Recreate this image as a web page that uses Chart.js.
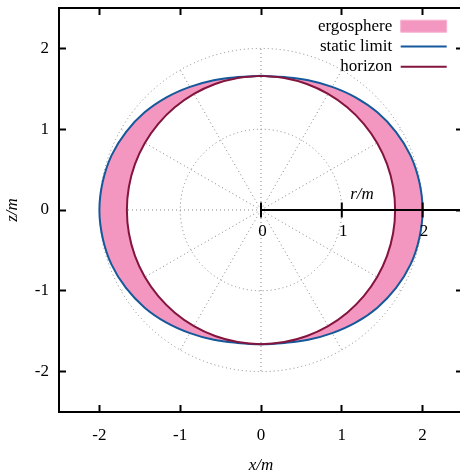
<!DOCTYPE html>
<html><head><meta charset="utf-8">
<script src="https://cdn.jsdelivr.net/npm/chart.js@4/dist/chart.umd.min.js"></script>
<style>html,body{margin:0;padding:0;overflow:hidden;background:#fff}#wrap{position:relative;width:470px;height:474px}</style>
</head><body><div id="wrap"><canvas id="c"></canvas></div>
<script>
// polar angle (degrees, measured from +z axis toward +x)
const thetaDeg = [0,10,20,30,40,50,60,70,80,90,100,110,120,130,140,150,160,170,180,190,200,210,220,230,240,250,260,270,280,290,300,310,320,330,340,350,360];
// radius of the static limit at each angle (units of m)
const staticLimitR = [1.66,1.67,1.71,1.76,1.82,1.88,1.93,1.97,1.99,2.00,1.99,1.97,1.93,1.88,1.82,1.76,1.71,1.67,1.66,1.67,1.71,1.76,1.82,1.88,1.93,1.97,1.99,2.00,1.99,1.97,1.93,1.88,1.82,1.76,1.71,1.67,1.66];
// radius of the horizon at each angle
const horizonR = [1.66,1.66,1.66,1.66,1.66,1.66,1.66,1.66,1.66,1.66,1.66,1.66,1.66,1.66,1.66,1.66,1.66,1.66,1.66,1.66,1.66,1.66,1.66,1.66,1.66,1.66,1.66,1.66,1.66,1.66,1.66,1.66,1.66,1.66,1.66,1.66,1.66];
const xTicks = [-2,-1,0,1,2];
const xTickLabels = ['-2','-1','0','1','2'];
const yTicks = [-2,-1,0,1,2];
const yTickLabels = ['-2','-1','0','1','2'];
const rTicks = [0,1,2];
const rTickLabels = ['0','1','2'];
const gridRadii = [1,2];
const gridAnglesDeg = [0,30,60,90,120,150,180,210,240,270,300,330];
const legendLabels = ['ergosphere','static limit','horizon'];
const axisRange = [-2.5,2.5];

const PINK = '#f397c0', BLUE = '#15599b', RED = '#83143d';
const FONT = 'Liberation Serif';

function pt(r, deg){ const a = deg*Math.PI/180; return {x: r*Math.sin(a), y: r*Math.cos(a)}; }
const idx = thetaDeg.map((_, i) => i);
const staticPts = idx.map(i => pt(staticLimitR[i], thetaDeg[i]));
const horizonPts = idx.map(i => pt(horizonR[i], thetaDeg[i]));
const half = thetaDeg.indexOf(180);
const crescentRight = staticPts.slice(0, half+1).concat(horizonPts.slice(0, half+1).reverse());
const crescentLeft = staticPts.slice(half).concat(horizonPts.slice(half).reverse());

const polarGrid = {
  id: 'polarGrid',
  beforeDatasetsDraw(chart){
    const {ctx, chartArea: ca, scales: {x, y}} = chart;
    const cx = x.getPixelForValue(0), cy = y.getPixelForValue(0);
    ctx.save();
    ctx.beginPath(); ctx.rect(ca.left, ca.top, ca.right-ca.left, ca.bottom-ca.top); ctx.clip();
    ctx.strokeStyle = '#858585'; ctx.lineWidth = 1; ctx.setLineDash([1,3]);
    gridRadii.forEach(r => {
      const rx = x.getPixelForValue(r) - cx, ry = cy - y.getPixelForValue(r);
      ctx.beginPath(); ctx.ellipse(cx, cy, rx, ry, 0, 0, 2*Math.PI); ctx.stroke();
    });
    const rmax = Math.max(...gridRadii);
    gridAnglesDeg.forEach(a => {
      const t = a*Math.PI/180;
      ctx.beginPath(); ctx.moveTo(cx, cy);
      ctx.lineTo(x.getPixelForValue(rmax*Math.cos(t)), y.getPixelForValue(rmax*Math.sin(t)));
      ctx.stroke();
    });
    ctx.restore();
  }
};

const rAxis = {
  id: 'rAxis',
  afterDatasetsDraw(chart){
    const {ctx, scales: {x, y}} = chart;
    const cx = x.getPixelForValue(0), cy = y.getPixelForValue(0);
    ctx.save();
    ctx.strokeStyle = '#000'; ctx.lineWidth = 2; ctx.setLineDash([]);
    ctx.beginPath(); ctx.moveTo(cx, cy); ctx.lineTo(x.getPixelForValue(axisRange[1]), cy); ctx.stroke();
    rTicks.forEach(v => {
      const px = x.getPixelForValue(v);
      ctx.beginPath(); ctx.moveTo(px, cy-7.5); ctx.lineTo(px, cy+7.5); ctx.stroke();
    });
    ctx.fillStyle = '#000'; ctx.textAlign = 'center'; ctx.textBaseline = 'middle';
    ctx.font = '17px "' + FONT + '"';
    rTicks.forEach((v, i) => ctx.fillText(rTickLabels[i], x.getPixelForValue(v)+1.5, cy+21.5));
    ctx.font = 'italic 17px "' + FONT + '"';
    ctx.fillText('r/m', x.getPixelForValue(1.25), cy-15);
    ctx.restore();
  }
};

const legendPlacement = {
  id: 'legendPlacement',
  afterLayout(chart){
    const l = chart.legend; if (!l) return;
    const ca = chart.chartArea;
    const right = ca.right - 13;
    l.left = right - l.width; l.right = right;
    l.top = ca.top + 6.4; l.bottom = ca.bottom;
  }
};

const tickFont = {family: FONT, size: 17};
function axisCommon(ticksArr, labels, pad){
  return {
    type: 'linear', min: axisRange[0], max: axisRange[1],
    afterBuildTicks: s => { s.ticks = ticksArr.map(v => ({value: v})); },
    ticks: {autoSkip: false, maxRotation: 0, font: tickFont, color: '#000', padding: pad,
            callback: (v, i) => labels[i]},
    grid: {drawOnChartArea: false, drawTicks: true, tickLength: -7, tickWidth: 2, tickColor: '#000', color: '#000'},
    border: {display: true, color: '#000', width: 2}
  };
}
function fixSize(prop, val){
  return s => { s[prop] = val; s.paddingTop = 0; s.paddingBottom = 0; s.paddingLeft = 0; s.paddingRight = 0; };
}

const xAxis = axisCommon(xTicks, xTickLabels, 20);
xAxis.position = 'bottom';
xAxis.afterFit = fixSize('height', 62);
xAxis.title = {display: true, text: 'x/m', color: '#000', font: {family: FONT, size: 17, style: 'italic'}, padding: {top: 0, bottom: -2}};

const x2Axis = axisCommon(xTicks, xTickLabels, 0);
x2Axis.position = 'top'; x2Axis.axis = 'x';
x2Axis.ticks.display = false;
x2Axis.afterFit = fixSize('height', 8);

const yAxis = axisCommon(yTicks, yTickLabels, 17);
yAxis.position = 'left';
yAxis.afterFit = fixSize('width', 59);
yAxis.title = {display: true, text: 'z/m', color: '#000', font: {family: FONT, size: 17, style: 'italic'}, padding: {top: 2.5, bottom: 0}};

const y2Axis = axisCommon(yTicks, yTickLabels, 0);
y2Axis.position = 'right'; y2Axis.axis = 'y';
y2Axis.ticks.display = false;
y2Axis.afterFit = fixSize('width', 7);

const TENSION = 0.4;
new Chart(document.getElementById('c'), {
  type: 'scatter',
  data: {
    datasets: [
      {label: legendLabels[2], data: horizonPts, showLine: true, borderColor: RED, borderWidth: 2, fill: false, pointRadius: 0, tension: TENSION},
      {label: legendLabels[1], data: staticPts, showLine: true, borderColor: BLUE, borderWidth: 2, fill: false, pointRadius: 0, tension: TENSION},
      {label: legendLabels[0], data: crescentRight, showLine: true, borderColor: 'transparent', borderWidth: 0, backgroundColor: PINK, fill: 'shape', pointRadius: 0, tension: TENSION},
      {label: legendLabels[0] + ' ', data: crescentLeft, showLine: true, borderColor: 'transparent', borderWidth: 0, backgroundColor: PINK, fill: 'shape', pointRadius: 0, tension: TENSION}
    ]
  },
  options: {
    responsive: true, maintainAspectRatio: false, animation: false,
    layout: {padding: 0},
    elements: {point: {radius: 0}},
    plugins: {
      tooltip: {enabled: false},
      legend: {
        position: 'chartArea', align: 'start', rtl: true,
        labels: {
          font: {family: FONT, size: 17}, color: '#000', padding: 3.3,
          boxWidth: 46, boxHeight: 12, usePointStyle: true, pointStyleWidth: 46, textAlign: 'left',
          generateLabels: () => [
            {text: legendLabels[0], fillStyle: PINK, strokeStyle: '#f6b3d1', lineWidth: 1, pointStyle: 'rect', hidden: false, fontColor: '#000'},
            {text: legendLabels[1], fillStyle: BLUE, strokeStyle: BLUE, lineWidth: 2, pointStyle: 'line', hidden: false, fontColor: '#000'},
            {text: legendLabels[2], fillStyle: RED, strokeStyle: RED, lineWidth: 2, pointStyle: 'line', hidden: false, fontColor: '#000'}
          ]
        }
      }
    },
    scales: {x: xAxis, x2: x2Axis, y: yAxis, y2: y2Axis}
  },
  plugins: [polarGrid, rAxis, legendPlacement]
});
</script>
</body></html>
